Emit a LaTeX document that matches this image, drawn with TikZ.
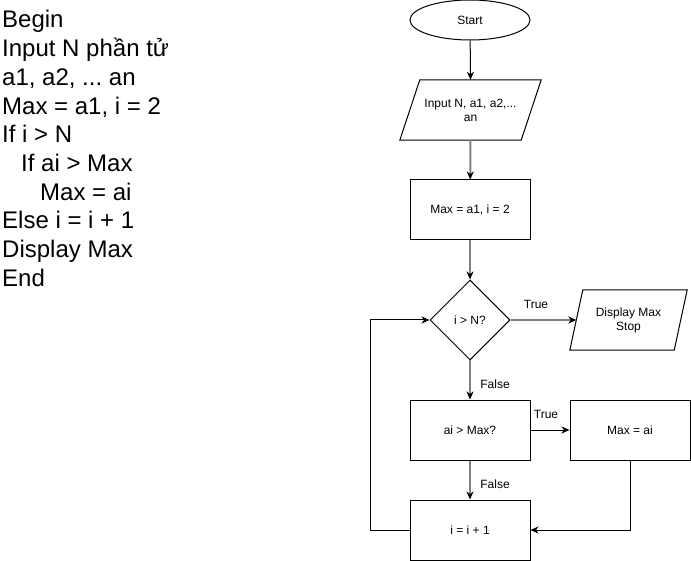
\documentclass[tikz,border=0pt]{standalone}
\usepackage{fontspec}
\setmainfont{Liberation Sans}
\usetikzlibrary{arrows.meta,shapes.geometric,calc}
\frenchspacing

\definecolor{flowgrey}{RGB}{128,128,128}

\tikzset{
  x=1pt, y=-1pt,
  box/.style={draw=black, line width=1pt, rectangle, minimum width=120pt,
              minimum height=60pt, inner sep=0pt, align=center, font=\fontsize{12}{14}\selectfont},
  slanted/.style={rectangle, inner sep=0pt, align=center, font=\fontsize{12}{14}\selectfont},
  terminal/.style={draw=black, line width=1pt, ellipse, minimum width=120pt,
              minimum height=40pt, inner sep=0pt, font=\fontsize{12}{14}\selectfont},
  decision/.style={draw=black, line width=1pt, diamond, minimum width=80pt,
              minimum height=80pt, inner sep=0pt, font=\fontsize{12}{14}\selectfont},
  tip/.style={-{Stealth[black, length=8pt, width=7pt, inset=2.5pt]}},
  thinflow/.style={tip, draw=black, line width=1pt},
  thickflow/.style={tip, draw=flowgrey, line width=2pt},
  edgelabel/.style={font=\fontsize{12}{14}\selectfont, inner sep=0pt},
  code/.style={anchor=base west, inner sep=0pt, font=\fontsize{24}{28}\selectfont}
}

\begin{document}
\begin{tikzpicture}
\useasboundingbox (0,0) rectangle (691,561);

% pseudocode listing
\node[code] (l1) at (2,28) {Begin};
\node[code] (l2) at (2,56.7) {Input N phần tử};
\node[code] (l3) at (2,85.4) {a1, a2, ... an};
\node[code] (l4) at (2,114.1) {Max = a1, i = 2};
\node[code] (l5) at (2,142.8) {If i > N};
\node[code] (l6) at (21,171.5) {If ai > Max};
\node[code] (l7) at (40,200.2) {Max = ai};
\node[code] (l8) at (2,228.9) {Else i = i + 1};
\node[code] (l9) at (2,257.6) {Display Max};
\node[code] (l10) at (2,286.3) {End};

% flowchart nodes
\node[terminal] (start) at (470,20) {Start};

\node[slanted, minimum width=141pt, minimum height=60pt] (input) at (470.5,110)
  {Input N, a1, a2,...\\an};
\draw[line width=1pt] ($(input.north west)+(20,0)$) -- (input.north east)
  -- ($(input.south east)+(-20,0)$) -- (input.south west) -- cycle;

\node[box] (init) at (470,210) {Max = a1, i = 2};

\node[decision] (cond) at (470,320) {i > N?};

\node[slanted, minimum width=117pt, minimum height=60pt] (disp) at (628.5,320)
  {Display Max\\Stop};
\draw[line width=1pt] ($(disp.north west)+(13,0)$) -- (disp.north east)
  -- ($(disp.south east)+(-13,0)$) -- (disp.south west) -- cycle;
\coordinate (dispin) at ($(disp.west)+(6.5,0)$);

\node[box] (cmp) at (470,430) {ai > Max?};
\node[box] (upd) at (630,430) {Max = ai};
\node[box] (inc) at (470,530) {i = i + 1};

% connectors
\draw[thinflow] (start) -- (input.north);
\draw[thickflow] (input.south) -- (init);
\draw[thickflow] (init) -- (cond);
\draw[thickflow] (cond.east) -- (dispin);
\draw[thickflow] (cond.south) -- (cmp);
\draw[thinflow] (cmp) -- (upd);
\draw[thickflow] (cmp) -- (inc);
\draw[thinflow] (upd.south) |- (inc.east);
\draw[thinflow] (inc.west) -- ++(-39,0) |- (cond.west);

% connector labels
\node[edgelabel] (t1) at (536,304) {True};
\node[edgelabel] (f1) at (495,384.5) {False};
\node[edgelabel] (t2) at (546,414.5) {True};
\node[edgelabel] (f2) at (495,484.5) {False};
\end{tikzpicture}
\end{document}
